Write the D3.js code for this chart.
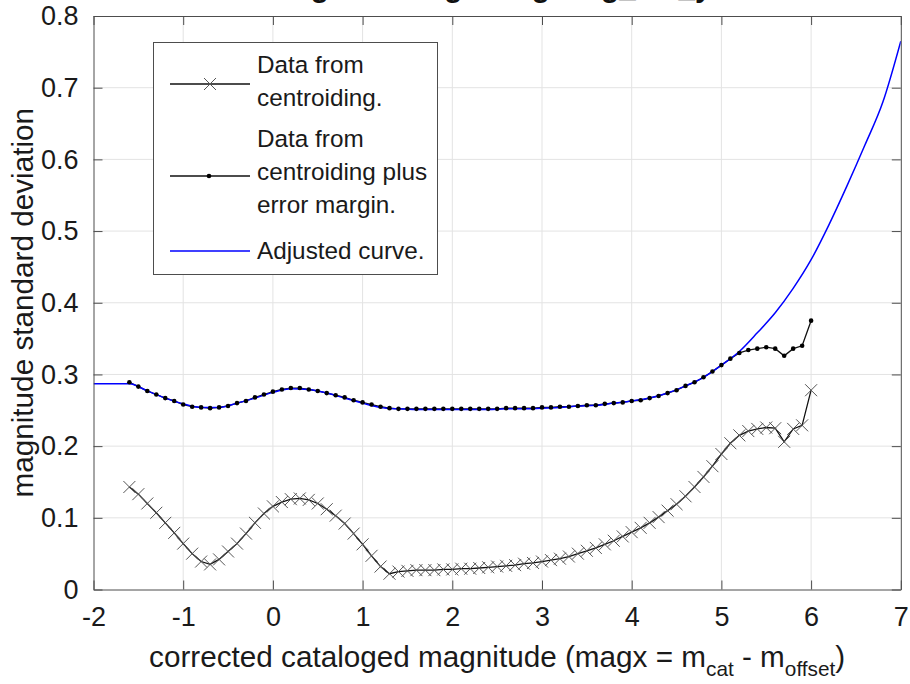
<!DOCTYPE html>
<html lang="en">
<head>
<meta charset="UTF-8">
<title>magnitude standard deviation</title>
<script src="https://cdn.jsdelivr.net/npm/d3@7"></script>
<style>
    body { margin: 0; background: #fff; }
    svg { font-family: "Liberation Sans", Arial, Helvetica, sans-serif; }
</style>
</head>
<body>
<div id="chart"></div>
<script>
    // x positions shared by both measured series
    const magx = [-1.6, -1.5, -1.4, -1.3, -1.2, -1.1, -1.0, -0.9, -0.8, -0.7,
        -0.6, -0.5, -0.4, -0.3, -0.2, -0.1, 0.0, 0.1, 0.2, 0.3,
        0.4, 0.5, 0.6, 0.7, 0.8, 0.9, 1.0, 1.1, 1.2, 1.3,
        1.4, 1.5, 1.6, 1.7, 1.8, 1.9, 2.0, 2.1, 2.2, 2.3,
        2.4, 2.5, 2.6, 2.7, 2.8, 2.9, 3.0, 3.1, 3.2, 3.3,
        3.4, 3.5, 3.6, 3.7, 3.8, 3.9, 4.0, 4.1, 4.2, 4.3,
        4.4, 4.5, 4.6, 4.7, 4.8, 4.9, 5.0, 5.1, 5.2, 5.3,
        5.4, 5.5, 5.6, 5.7, 5.8, 5.9, 6.0];

    // "Data from centroiding." (x markers)
    const centroidStd = [0.143, 0.133, 0.120, 0.107, 0.093, 0.079, 0.064, 0.050, 0.039, 0.035,
        0.042, 0.053, 0.064, 0.078, 0.093, 0.106, 0.116, 0.122, 0.126, 0.127,
        0.125, 0.120, 0.112, 0.103, 0.092, 0.078, 0.063, 0.047, 0.032, 0.022,
        0.025, 0.026, 0.027, 0.027, 0.027, 0.028, 0.028, 0.029, 0.029, 0.030,
        0.031, 0.032, 0.033, 0.034, 0.036, 0.037, 0.039, 0.041, 0.043, 0.046,
        0.050, 0.054, 0.058, 0.063, 0.068, 0.074, 0.080, 0.086, 0.093, 0.101,
        0.110, 0.119, 0.130, 0.143, 0.157, 0.172, 0.189, 0.204, 0.215, 0.221,
        0.224, 0.226, 0.225, 0.206, 0.224, 0.229, 0.278];

    // "Data from centroiding plus error margin." (dot markers)
    const marginStd = [0.289, 0.283, 0.277, 0.272, 0.267, 0.263, 0.258, 0.255, 0.254, 0.253,
        0.254, 0.256, 0.260, 0.263, 0.268, 0.272, 0.276, 0.279, 0.281, 0.281,
        0.279, 0.277, 0.274, 0.271, 0.268, 0.264, 0.261, 0.258, 0.255, 0.253,
        0.252, 0.252, 0.252, 0.252, 0.252, 0.252, 0.252, 0.252, 0.252, 0.252,
        0.252, 0.252, 0.253, 0.253, 0.253, 0.253, 0.254, 0.254, 0.255, 0.255,
        0.256, 0.257, 0.257, 0.259, 0.260, 0.261, 0.263, 0.264, 0.267, 0.270,
        0.274, 0.278, 0.284, 0.289, 0.296, 0.304, 0.313, 0.322, 0.330, 0.334,
        0.336, 0.338, 0.336, 0.326, 0.336, 0.340, 0.375];

    // "Adjusted curve." (blue)
    const curveX = [-2.0, -1.8, -1.6, -1.4, -1.2, -1.0, -0.8, -0.6, -0.4, -0.2,
        0.0, 0.2, 0.4, 0.6, 0.8, 1.0, 1.2, 1.4, 1.6, 1.8,
        2.0, 2.2, 2.4, 2.6, 2.8, 3.0, 3.2, 3.4, 3.6, 3.8,
        4.0, 4.2, 4.4, 4.6, 4.8, 5.0, 5.2, 5.4, 5.6, 5.8,
        6.0, 6.2, 6.4, 6.6, 6.8, 7.0];
    const curveStd = [0.287, 0.287, 0.287, 0.277, 0.267, 0.259, 0.254, 0.254, 0.260, 0.267,
        0.275, 0.280, 0.279, 0.274, 0.267, 0.260, 0.254, 0.252, 0.251, 0.251,
        0.251, 0.251, 0.251, 0.252, 0.252, 0.253, 0.254, 0.256, 0.257, 0.260,
        0.263, 0.267, 0.274, 0.284, 0.296, 0.313, 0.332, 0.358, 0.386, 0.420,
        0.460, 0.509, 0.563, 0.620, 0.680, 0.765];

    const xTicks = [-2, -1, 0, 1, 2, 3, 4, 5, 6, 7];
    const xTickLabels = ["-2", "-1", "0", "1", "2", "3", "4", "5", "6", "7"];
    const yTicks = [0, 0.1, 0.2, 0.3, 0.4, 0.5, 0.6, 0.7, 0.8];
    const yTickLabels = ["0", "0.1", "0.2", "0.3", "0.4", "0.5", "0.6", "0.7", "0.8"];
    const legendLabels = [["Data from", "centroiding."],
        ["Data from", "centroiding plus", "error margin."],
        ["Adjusted curve."]];

    const width = 910, height = 684;
    const margin = { top: 16, right: 9.2, bottom: 94.5, left: 93.5 };
    const axisColor = "#4d4d4d";
    const tickFont = 27, labelFont = 29.7, legendFont = 24.3;

    const x = d3.scaleLinear().domain([-2, 7]).range([margin.left, width - margin.right]);
    const y = d3.scaleLinear().domain([0, 0.8]).range([height - margin.bottom, margin.top]);

    const svg = d3.select("#chart").append("svg")
        .attr("width", width).attr("height", height);

    // grid
    svg.append("g").selectAll("line").data(xTicks.slice(1, -1)).join("line")
        .attr("x1", d => x(d)).attr("x2", d => x(d))
        .attr("y1", y(0)).attr("y2", y(0.8))
        .attr("stroke", "#e3e3e3").attr("stroke-width", 1);
    svg.append("g").selectAll("line").data(yTicks.slice(1, -1)).join("line")
        .attr("x1", x(-2)).attr("x2", x(7))
        .attr("y1", d => y(d)).attr("y2", d => y(d))
        .attr("stroke", "#e3e3e3").attr("stroke-width", 1);

    // title, cut by the top edge like the reference (only descenders show)
    svg.append("text")
        .attr("x", (x(-2) + x(7)) / 2).attr("y", -3)
        .attr("text-anchor", "middle").attr("font-size", labelFont).attr("font-weight", "bold")
        .attr("fill", "#111")
        .text("Sigma fitting using mag_cat_y");

    svg.append("clipPath").attr("id", "plotclip").append("rect")
        .attr("x", x(-2)).attr("y", y(0.8)).attr("width", x(7) - x(-2)).attr("height", y(0) - y(0.8));

    const plot = svg.append("g").attr("clip-path", "url(#plotclip)");

    const crossData = magx.map((m, i) => [m, centroidStd[i]]);
    const dotData = magx.map((m, i) => [m, marginStd[i]]);
    const curveData = curveX.map((m, i) => [m, curveStd[i]]);

    const line = d3.line().x(d => x(d[0])).y(d => y(d[1]));
    const cs = 6;
    const crossPath = (cx, cy) => `M${cx - cs},${cy - cs}L${cx + cs},${cy + cs}M${cx - cs},${cy + cs}L${cx + cs},${cy - cs}`;

    // crosses
    plot.append("path").datum(crossData)
        .attr("d", line).attr("fill", "none").attr("stroke", "#111").attr("stroke-width", 1.3);
    plot.append("g").selectAll("path").data(crossData).join("path")
        .attr("d", d => crossPath(x(d[0]), y(d[1])))
        .attr("stroke", "#555").attr("stroke-width", 1).attr("fill", "none");

    // dots line
    plot.append("path").datum(dotData)
        .attr("d", line).attr("fill", "none").attr("stroke", "#111").attr("stroke-width", 1.3);

    // adjusted curve
    plot.append("path").datum(curveData)
        .attr("d", d3.line().x(d => x(d[0])).y(d => y(d[1])).curve(d3.curveMonotoneX))
        .attr("fill", "none").attr("stroke", "#0000ff").attr("stroke-width", 1.5);

    plot.append("g").selectAll("circle").data(dotData).join("circle")
        .attr("cx", d => x(d[0])).attr("cy", d => y(d[1])).attr("r", 2.3)
        .attr("fill", "#000");

    // axes: box with inward ticks
    const tickLen = 9;
    const xAxisB = d3.axisBottom(x).tickValues(xTicks).tickSizeInner(-tickLen).tickSizeOuter(0).tickPadding(17)
        .tickFormat((d, i) => xTickLabels[i]);
    const xAxisT = d3.axisTop(x).tickValues(xTicks).tickSizeInner(-tickLen).tickSizeOuter(0).tickFormat("");
    const yAxisL = d3.axisLeft(y).tickValues(yTicks).tickSizeInner(-tickLen).tickSizeOuter(0).tickPadding(15)
        .tickFormat((d, i) => yTickLabels[i]);
    const yAxisR = d3.axisRight(y).tickValues(yTicks).tickSizeInner(-tickLen).tickSizeOuter(0).tickFormat("");

    function style(g) {
        g.select(".domain").attr("stroke", axisColor);
        g.selectAll(".tick line").attr("stroke", axisColor);
        g.selectAll(".tick text").attr("fill", "#1a1a1a").attr("font-size", tickFont)
            .attr("font-family", "'Liberation Sans', Arial, sans-serif");
    }

    svg.append("g").attr("transform", `translate(0,${y(0)})`).call(xAxisB).call(style);
    svg.append("g").attr("transform", `translate(0,${y(0.8)})`).call(xAxisT).call(style);
    svg.append("g").attr("transform", `translate(${x(-2)},0)`).call(yAxisL).call(style);
    svg.append("g").attr("transform", `translate(${x(7)},0)`).call(yAxisR).call(style);

    // axis labels
    const subFont = 20.8;
    const xl = svg.append("text")
        .attr("x", (x(-2) + x(7)) / 2).attr("y", 667)
        .attr("text-anchor", "middle").attr("font-size", labelFont).attr("fill", "#1a1a1a");
    xl.append("tspan").text("corrected cataloged magnitude (magx = m");
    xl.append("tspan").attr("font-size", subFont).attr("dy", 9).text("cat");
    xl.append("tspan").attr("dy", -9).text(" - m");
    xl.append("tspan").attr("font-size", subFont).attr("dy", 9).text("offset");
    xl.append("tspan").attr("dy", -9).text(")");

    svg.append("text")
        .attr("transform", `translate(33,${(y(0) + y(0.8)) / 2}) rotate(-90)`)
        .attr("text-anchor", "middle").attr("font-size", labelFont).attr("fill", "#1a1a1a")
        .text("magnitude standard deviation");

    // legend
    const lg = svg.append("g");
    lg.append("rect").attr("x", 153.5).attr("y", 42.5).attr("width", 284).attr("height", 232)
        .attr("fill", "#fff").attr("stroke", axisColor).attr("stroke-width", 1);

    const entries = [
        { ly: 84, lines: legendLabels[0], base: 73, kind: "cross" },
        { ly: 176, lines: legendLabels[1], base: 147, kind: "dot" },
        { ly: 251, lines: legendLabels[2], base: 259, kind: "curve" }
    ];
    entries.forEach(e => {
        lg.append("line").attr("x1", 170).attr("x2", 250).attr("y1", e.ly).attr("y2", e.ly)
            .attr("stroke", e.kind === "curve" ? "#0000ff" : "#111").attr("stroke-width", e.kind === "curve" ? 1.5 : 1.3);
        if (e.kind === "cross") {
            lg.append("path").attr("d", crossPath(210, e.ly)).attr("stroke", "#555").attr("fill", "none");
        } else if (e.kind === "dot") {
            lg.append("circle").attr("cx", 209).attr("cy", e.ly).attr("r", 2.3).attr("fill", "#000");
        }
        e.lines.forEach((t, i) => {
            lg.append("text").attr("x", 257).attr("y", e.base + i * 33)
                .attr("font-size", legendFont).attr("fill", "#1a1a1a").text(t);
        });
    });
</script>
</body>
</html>
